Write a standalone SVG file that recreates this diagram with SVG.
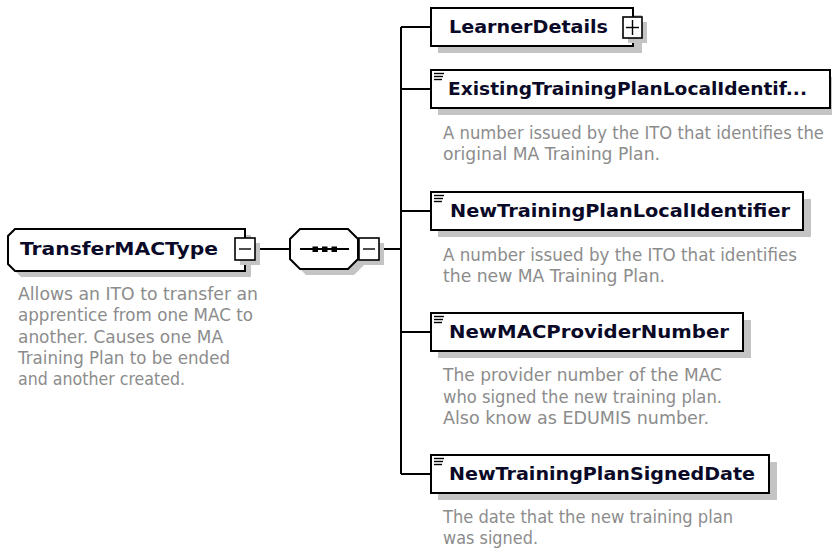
<svg xmlns="http://www.w3.org/2000/svg" width="832" height="549" viewBox="0 0 832 549">
<style>
.bg{fill:#fff}
.box{fill:#fff;stroke:#000;stroke-width:2}
.sh{fill:#c4c4c4}
.btn{fill:#fff;stroke:#000;stroke-width:1.6}
.ln{stroke:#000;stroke-width:2;fill:none}
.ic{stroke:#000;stroke-width:1.4}
.t{font-family:"DejaVu Sans","Liberation Sans",sans-serif;font-weight:bold;font-size:18px;fill:#0a0a28}
.d{font-family:"DejaVu Sans","Liberation Sans",sans-serif;font-size:17.5px;fill:#8c8c8c}
</style>
<rect class="bg" x="0" y="0" width="832" height="549"/>
<g id="connectors">
<line class="ln" x1="255" y1="249" x2="290" y2="249"/>
<line class="ln" x1="379" y1="249" x2="401" y2="249"/>
<line class="ln" x1="401" y1="27" x2="401" y2="474"/>
<line class="ln" x1="401" y1="27" x2="431" y2="27"/>
<line class="ln" x1="401" y1="89" x2="431" y2="89"/>
<line class="ln" x1="401" y1="211" x2="431" y2="211"/>
<line class="ln" x1="401" y1="332" x2="431" y2="332"/>
<line class="ln" x1="401" y1="474" x2="431" y2="474"/>
</g>
<g id="TransferMACType">
<path class="sh" d="M21,235 H251 V277 H21 L14,270 V242 Z"/>
<path class="box" d="M15,229 H245 V271 H15 L8,264 V236 Z"/>
<rect class="sh" x="240" y="243" width="20" height="22"/>
<rect class="btn" x="235" y="238" width="20" height="22"/>
<line class="ic" x1="239" y1="249" x2="251" y2="249"/>
<text class="t" x="20" y="255" textLength="198" lengthAdjust="spacingAndGlyphs">TransferMACType</text>
<text class="d" x="18" y="300" textLength="240" lengthAdjust="spacingAndGlyphs">Allows an ITO to transfer an</text>
<text class="d" x="18" y="321" textLength="235" lengthAdjust="spacingAndGlyphs">apprentice from one MAC to</text>
<text class="d" x="18" y="343" textLength="205" lengthAdjust="spacingAndGlyphs">another. Causes one MA</text>
<text class="d" x="18" y="364" textLength="212" lengthAdjust="spacingAndGlyphs">Training Plan to be ended</text>
<text class="d" x="18" y="385" textLength="167" lengthAdjust="spacingAndGlyphs">and another created.</text>
</g>
<g id="sequence">
<path class="sh" d="M306,235 H354 L364,245 V265 L354,275 H306 L296,265 V245 Z"/>
<path class="box" d="M300,229 H348 L358,239 V259 L348,269 H300 L290,259 V239 Z"/>
<line class="ln" x1="300" y1="249" x2="349" y2="249"/>
<rect x="312.5" y="246.5" width="5.5" height="5.5" fill="#000"/>
<rect x="322" y="246.5" width="5.5" height="5.5" fill="#000"/>
<rect x="331.5" y="246.5" width="5.5" height="5.5" fill="#000"/>
<rect class="sh" x="364" y="243" width="20" height="22"/>
<rect class="btn" x="359" y="238" width="20" height="22"/>
<line class="ic" x1="363" y1="249" x2="375" y2="249"/>
</g>
<g id="LearnerDetails">
<rect class="sh" x="438" y="15" width="204" height="38"/>
<rect class="box" x="431" y="8" width="202" height="38"/>
<rect class="sh" x="628" y="22" width="19" height="21"/>
<rect class="btn" x="623" y="17" width="19" height="21"/>
<line class="ic" x1="626" y1="27.5" x2="639" y2="27.5"/>
<line class="ic" x1="632.5" y1="20" x2="632.5" y2="35"/>
<text class="t" x="449" y="33" textLength="159" lengthAdjust="spacingAndGlyphs">LearnerDetails</text>
</g>
<g id="ExistingTrainingPlanLocalIdentifier">
<rect class="sh" x="438" y="77" width="400" height="38"/>
<rect class="box" x="431" y="70" width="399" height="38"/>
<line class="ic" x1="434" y1="73.5" x2="444" y2="73.5"/>
<line class="ic" x1="434" y1="76.5" x2="443" y2="76.5"/>
<line class="ic" x1="434" y1="79.5" x2="442" y2="79.5"/>
<text class="t" x="448" y="95" textLength="359" lengthAdjust="spacingAndGlyphs">ExistingTrainingPlanLocalIdentif...</text>
<text class="d" x="443" y="139" textLength="381" lengthAdjust="spacingAndGlyphs">A number issued by the ITO that identifies the</text>
<text class="d" x="443" y="160" textLength="217" lengthAdjust="spacingAndGlyphs">original MA Training Plan.</text>
</g>
<g id="NewTrainingPlanLocalIdentifier">
<rect class="sh" x="438" y="199" width="373" height="38"/>
<rect class="box" x="431" y="192" width="372" height="38"/>
<line class="ic" x1="434" y1="195.5" x2="444" y2="195.5"/>
<line class="ic" x1="434" y1="198.5" x2="443" y2="198.5"/>
<line class="ic" x1="434" y1="201.5" x2="442" y2="201.5"/>
<text class="t" x="450" y="217" textLength="340" lengthAdjust="spacingAndGlyphs">NewTrainingPlanLocalIdentifier</text>
<text class="d" x="443" y="261" textLength="354" lengthAdjust="spacingAndGlyphs">A number issued by the ITO that identifies</text>
<text class="d" x="443" y="282" textLength="222" lengthAdjust="spacingAndGlyphs">the new MA Training Plan.</text>
</g>
<g id="NewMACProviderNumber">
<rect class="sh" x="438" y="320" width="313" height="38"/>
<rect class="box" x="431" y="313" width="312" height="38"/>
<line class="ic" x1="434" y1="316.5" x2="444" y2="316.5"/>
<line class="ic" x1="434" y1="319.5" x2="443" y2="319.5"/>
<line class="ic" x1="434" y1="322.5" x2="442" y2="322.5"/>
<text class="t" x="449" y="338" textLength="280" lengthAdjust="spacingAndGlyphs">NewMACProviderNumber</text>
<text class="d" x="443" y="381" textLength="279" lengthAdjust="spacingAndGlyphs">The provider number of the MAC</text>
<text class="d" x="443" y="403" textLength="279" lengthAdjust="spacingAndGlyphs">who signed the new training plan.</text>
<text class="d" x="443" y="424" textLength="266" lengthAdjust="spacingAndGlyphs">Also know as EDUMIS number.</text>
</g>
<g id="NewTrainingPlanSignedDate">
<rect class="sh" x="438" y="462" width="339" height="38"/>
<rect class="box" x="431" y="455" width="338" height="38"/>
<line class="ic" x1="434" y1="458.5" x2="444" y2="458.5"/>
<line class="ic" x1="434" y1="461.5" x2="443" y2="461.5"/>
<line class="ic" x1="434" y1="464.5" x2="442" y2="464.5"/>
<text class="t" x="449" y="480" textLength="306" lengthAdjust="spacingAndGlyphs">NewTrainingPlanSignedDate</text>
<text class="d" x="443" y="523" textLength="290" lengthAdjust="spacingAndGlyphs">The date that the new training plan</text>
<text class="d" x="443" y="544" textLength="95" lengthAdjust="spacingAndGlyphs">was signed.</text>
</g>
</svg>
